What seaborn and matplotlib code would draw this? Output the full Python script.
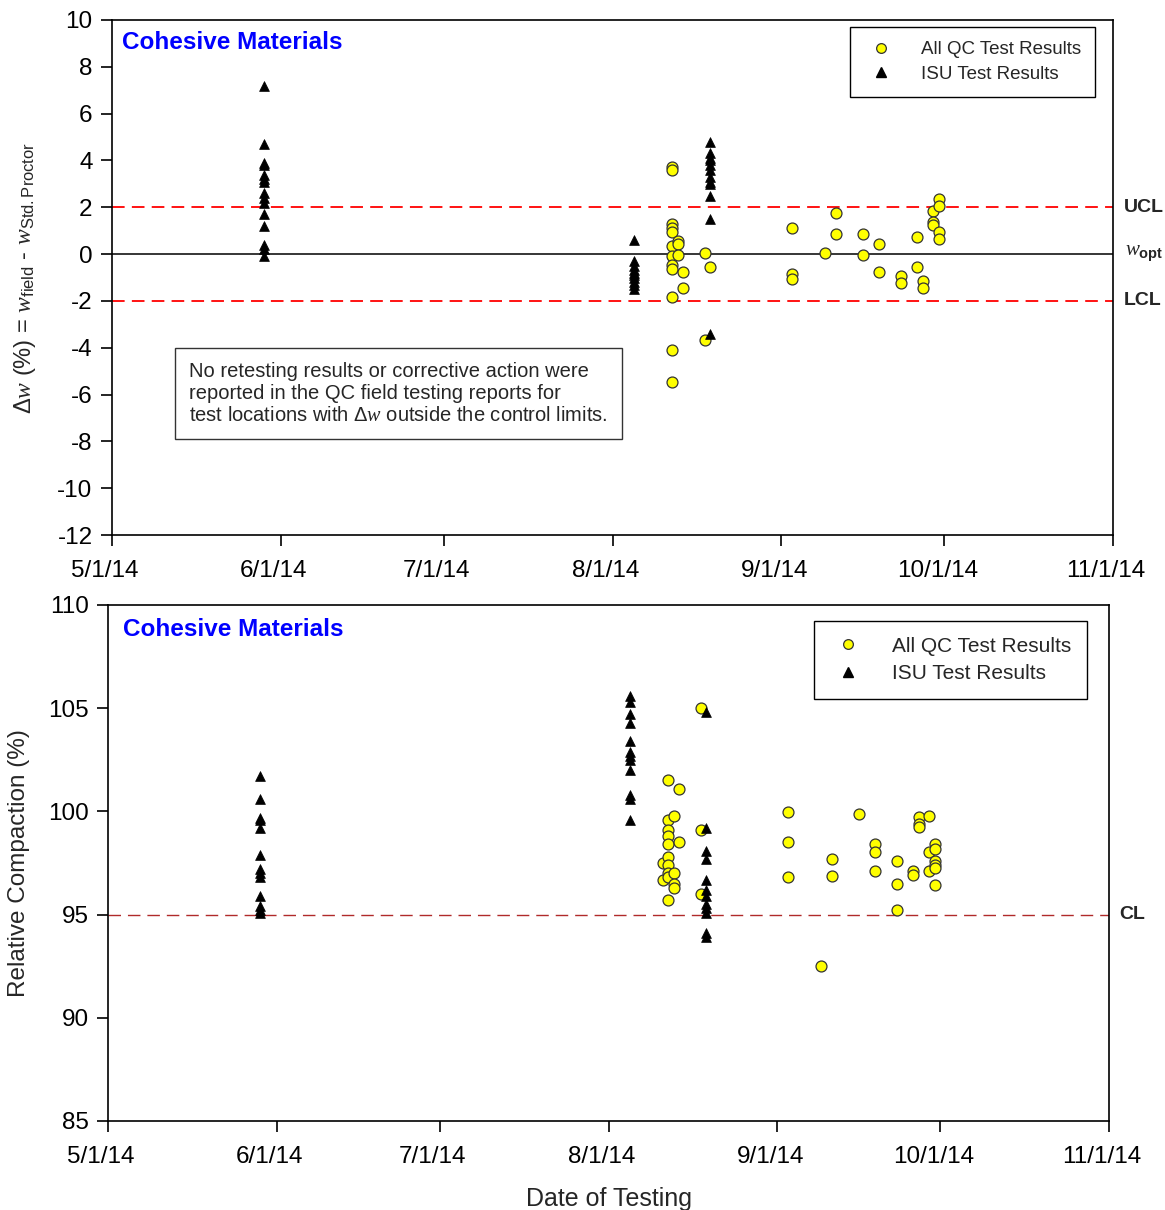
import pandas as pd
import matplotlib
matplotlib.use('Agg')
import matplotlib.pyplot as plt
import matplotlib.transforms as mtransforms
from matplotlib.lines import Line2D
import seaborn as sns

# ---------------- data ----------------
tick_dates = ['2014-05-01', '2014-06-01', '2014-07-01', '2014-08-01',
              '2014-09-01', '2014-10-01', '2014-11-01']
tick_labels = ['5/1/14', '6/1/14', '7/1/14', '8/1/14', '9/1/14', '10/1/14', '11/1/14']

# top panel: moisture deviation (%)
top_isu_days = ['2014-05-29', '2014-08-05', '2014-08-19']
top_isu_vals = [
    [7.2, 4.7, 3.9, 3.8, 3.4, 3.2, 3.1, 2.6, 2.4, 2.2, 1.7, 1.2, 0.4, 0.2, -0.1],
    [0.6, -0.3, -0.5, -0.7, -0.8, -0.9, -1.0, -1.2, -1.3, -1.5],
    [4.8, 4.3, 4.1, 4.0, 3.8, 3.6, 3.3, 3.1, 3.0, 2.5, 1.5, -3.4],
]
top_qc_days = ['2014-08-12', '2014-08-13', '2014-08-14', '2014-08-18', '2014-08-19',
               '2014-09-03', '2014-09-09', '2014-09-11', '2014-09-16', '2014-09-19',
               '2014-09-23', '2014-09-26', '2014-09-27', '2014-09-29', '2014-09-30']
top_qc_vals = [
    [3.7, 3.6, 1.3, 1.1, 0.95, 0.35, -0.1, -0.45, -0.65, -1.85, -4.1, -5.45],
    [0.55, 0.45, -0.05],
    [-0.75, -1.45],
    [0.05, -3.65],
    [-0.55],
    [1.1, -0.85, -1.05],
    [0.05],
    [1.75, 0.85],
    [0.85, -0.05],
    [0.45, -0.75],
    [-0.95, -1.25],
    [0.75, -0.55],
    [-1.15, -1.45],
    [1.85, 1.35, 1.25],
    [2.35, 2.05, 0.95, 0.65],
]
ucl, lcl, wopt = 2, -2, 0

# bottom panel: relative compaction (%)
bot_isu_days = ['2014-05-29', '2014-08-05', '2014-08-19']
bot_isu_vals = [
    [101.7, 100.6, 99.7, 99.6, 99.2, 97.9, 97.2, 97.0, 96.8, 95.9, 95.4, 95.2, 95.1],
    [105.6, 105.3, 104.7, 104.3, 103.4, 102.9, 102.7, 102.5, 102.0, 100.8, 100.6, 99.6],
    [104.8, 99.2, 98.1, 97.7, 96.7, 96.2, 95.9, 95.5, 95.3, 95.1, 94.1, 93.9],
]
bot_qc_days = ['2014-08-11', '2014-08-12', '2014-08-13', '2014-08-14', '2014-08-18',
               '2014-09-03', '2014-09-09', '2014-09-11', '2014-09-16', '2014-09-19',
               '2014-09-23', '2014-09-26', '2014-09-27', '2014-09-29', '2014-09-30']
bot_qc_vals = [
    [97.5, 96.7],
    [101.5, 99.6, 99.1, 98.8, 98.4, 97.8, 97.4, 97.0, 96.8, 95.7],
    [99.8, 97.0, 96.5, 96.3],
    [101.1, 98.5],
    [105.0, 99.1, 96.0],
    [99.95, 98.5, 96.8],
    [92.5],
    [97.7, 96.85],
    [99.85],
    [98.4, 98.05, 97.1],
    [97.6, 96.5, 95.2],
    [97.1, 96.9],
    [99.75, 99.4, 99.25],
    [99.8, 98.05, 97.1],
    [98.4, 98.2, 97.6, 97.4, 97.25, 96.45],
]
cl = 95


def make_df(days, vals):
    rows = [(pd.Timestamp(d), v) for d, vs in zip(days, vals) for v in vs]
    return pd.DataFrame(rows, columns=['date', 'value'])


sns.set_style('ticks')
plt.rcParams['font.family'] = ['Liberation Sans', 'DejaVu Sans']
plt.rcParams['axes.unicode_minus'] = False
plt.rcParams['mathtext.fontset'] = 'custom'
plt.rcParams['mathtext.rm'] = 'Liberation Sans'
plt.rcParams['mathtext.sf'] = 'Liberation Sans'
plt.rcParams['mathtext.it'] = 'Liberation Serif:italic'
plt.rcParams['mathtext.bf'] = 'Liberation Sans:bold'

fig = plt.figure(figsize=(11.65, 12.1), dpi=100)
ax1 = fig.add_axes([112 / 1165, 1 - 535 / 1210, 1001 / 1165, 515 / 1210])
ax2 = fig.add_axes([108 / 1165, 1 - 1121 / 1210, 1001 / 1165, 516 / 1210])

qc_kw = dict(marker='o', s=62, color='#ffff00', edgecolor='#333333', linewidth=0.9, zorder=4)
isu_kw = dict(marker='^', s=50, color='black', edgecolor='black', linewidth=0.5, zorder=5)

# ---- top panel ----
ax1.axhline(ucl, color='red', lw=1.3, dashes=(7, 4), zorder=1)
ax1.axhline(lcl, color='red', lw=1.3, dashes=(7, 4), zorder=1)
ax1.axhline(wopt, color='black', lw=1.1, zorder=1)
sns.scatterplot(data=make_df(top_qc_days, top_qc_vals), x='date', y='value', ax=ax1,
                label='All QC Test Results', **qc_kw)
sns.scatterplot(data=make_df(top_isu_days, top_isu_vals), x='date', y='value', ax=ax1,
                label='ISU Test Results', **isu_kw)
ax1.set_ylim(-12, 10)
ax1.set_yticks(range(-12, 11, 2))
ax1.set_ylabel(r'$\Delta w$ (%) = $w_{\mathrm{field}}$ - $w_{\mathrm{Std.Proctor}}$', fontsize=17)
ax1.yaxis.set_label_coords(-0.074, 0.5)
ax1.set_xlabel('')
ax1.text(0.01, 0.957, 'Cohesive Materials', transform=ax1.transAxes, color='#0000ff',
         fontsize=17.5, fontweight='bold', va='center', ha='left')
ax1.text(0.0769, 0.274,
         'No retesting results or corrective action were\n'
         'reported in the QC field testing reports for\n'
         r'test locations with $\Delta w$ outside the control limits.',
         transform=ax1.transAxes, fontsize=14.5, va='center', ha='left', linespacing=1.2,
         bbox=dict(boxstyle='square,pad=0.7', fc='white', ec='#333333', lw=1))
tr1 = mtransforms.blended_transform_factory(ax1.transAxes, ax1.transData)
ax1.text(1.011, ucl, 'UCL', transform=tr1, fontsize=14, fontweight='bold', va='center')
ax1.text(1.011, lcl, 'LCL', transform=tr1, fontsize=14, fontweight='bold', va='center')
ax1.text(1.012, wopt, r'$w_{\mathbf{opt}}$', transform=tr1, fontsize=15, va='center')

# ---- bottom panel ----
ax2.axhline(cl, color='#b02a2a', lw=1.0, dashes=(9, 5), zorder=1)
sns.scatterplot(data=make_df(bot_qc_days, bot_qc_vals), x='date', y='value', ax=ax2,
                label='All QC Test Results', **qc_kw)
sns.scatterplot(data=make_df(bot_isu_days, bot_isu_vals), x='date', y='value', ax=ax2,
                label='ISU Test Results', **isu_kw)
ax2.set_ylim(85, 110)
ax2.set_yticks(range(85, 111, 5))
ax2.set_ylabel('Relative Compaction (%)', fontsize=17.5)
ax2.yaxis.set_label_coords(-0.078, 0.5)
ax2.set_xlabel('Date of Testing', fontsize=18, labelpad=14)
ax2.text(0.015, 0.953, 'Cohesive Materials', transform=ax2.transAxes, color='#0000ff',
         fontsize=17.5, fontweight='bold', va='center', ha='left')
tr2 = mtransforms.blended_transform_factory(ax2.transAxes, ax2.transData)
ax2.text(1.01, cl, 'CL', transform=tr2, fontsize=14, fontweight='bold', va='center')

# ---- shared styling ----
handles = [
    Line2D([], [], marker='o', ls='', markersize=7, markerfacecolor='#ffff00',
           markeredgecolor='#333333', markeredgewidth=0.9),
    Line2D([], [], marker='^', ls='', markersize=7, markerfacecolor='black',
           markeredgecolor='black'),
]
labels = ['All QC Test Results', 'ISU Test Results']
for ax, anchor, fs in [(ax1, (0.982, 0.986), 13.5), (ax2, (0.978, 0.969), 15)]:
    ax.set_xlim(pd.Timestamp('2014-05-01'), pd.Timestamp('2014-11-01'))
    ax.set_xticks([pd.Timestamp(d) for d in tick_dates])
    ax.set_xticklabels(tick_labels)
    ax.tick_params(axis='both', direction='out', length=8, width=1.2, labelsize=17.5,
                   colors='black', top=False, right=False)
    ax.tick_params(axis='x', pad=10)
    ax.tick_params(axis='y', pad=6)
    for sp in ax.spines.values():
        sp.set_visible(True)
        sp.set_color('black')
        sp.set_linewidth(1.2)
    offset = mtransforms.ScaledTranslation(-7 / 100, 0, fig.dpi_scale_trans)
    for lab in ax.get_xticklabels():
        lab.set_transform(lab.get_transform() + offset)
    leg = ax.legend(handles, labels, loc='upper right', bbox_to_anchor=anchor, fontsize=fs,
                    frameon=True, fancybox=False, edgecolor='black', framealpha=1,
                    borderaxespad=0, borderpad=0.75, handletextpad=1.2, labelspacing=0.4,
                    handlelength=1.8)
    leg.get_frame().set_linewidth(1.0)

fig.savefig('out.png', dpi=100)
